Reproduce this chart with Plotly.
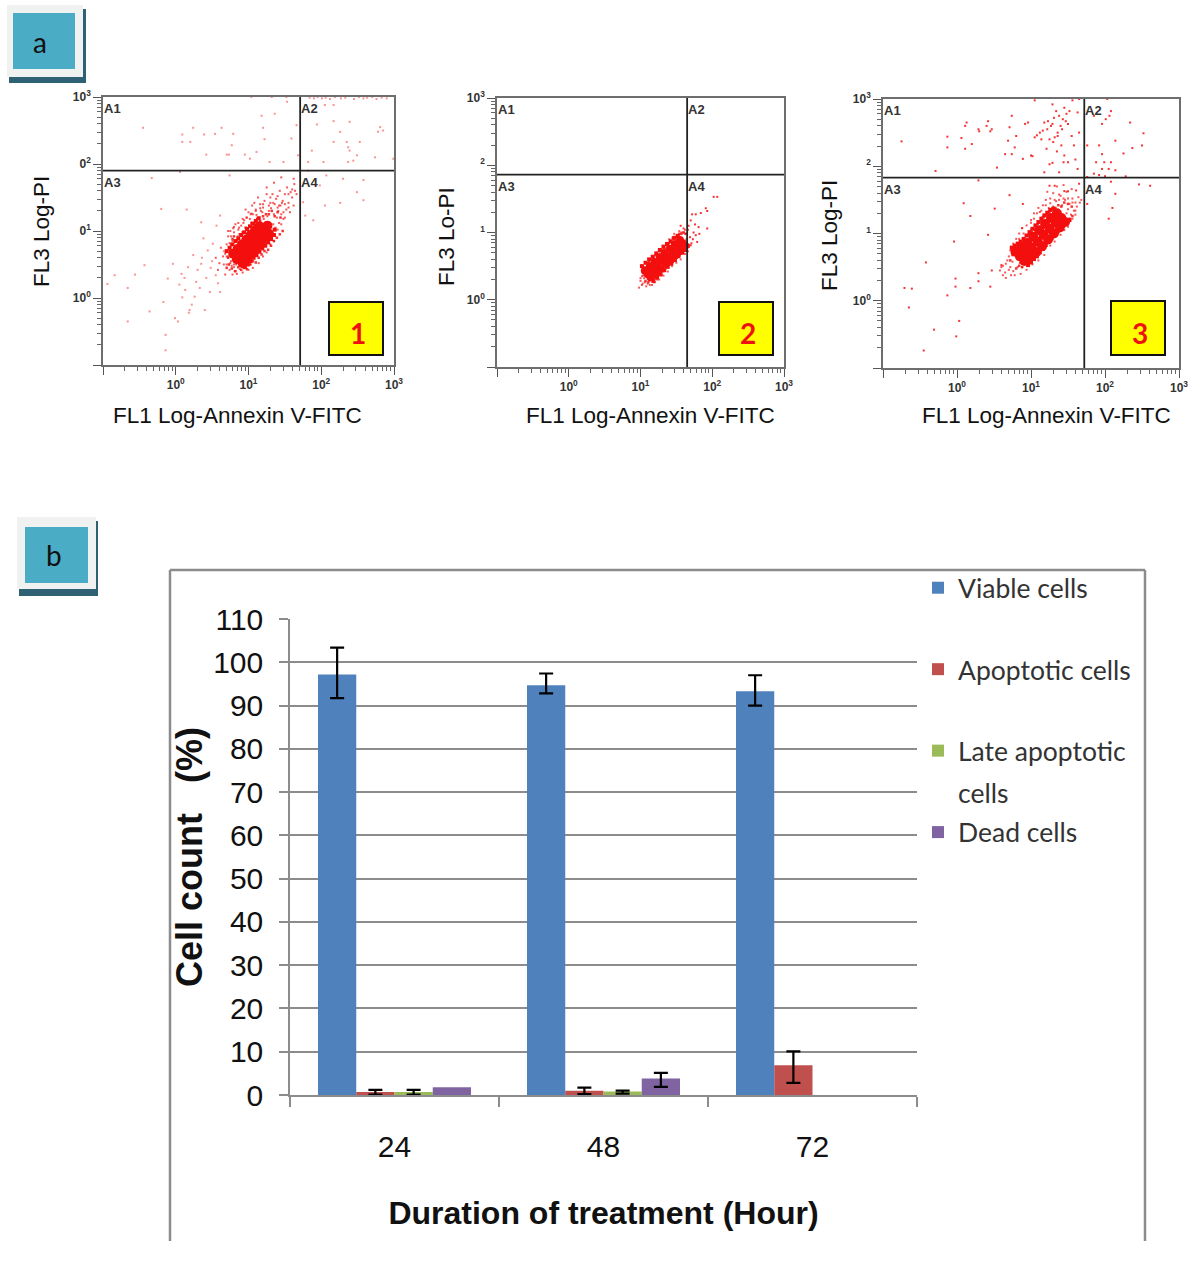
import plotly.graph_objects as go
import numpy as np

W, H = 1200, 1263
def px(x): return x / W
def py(y): return 1 - y / H

# ---------- panel a: flow cytometry dot plots (values in log10 decades) ----------
p1_sparse_x = [-0.45,0.09,0.09,0.24,0.39,0.20,0.63,0.54,0.79,0.77,0.42,0.70,0.73,0.95,1.20,1.18,1.36,1.53,1.22,1.11,1.02,1.59,1.48,1.66,1.68,1.29,1.04,1.32,1.52,
    1.84,1.90,1.95,2.01,2.06,2.12,2.19,2.27,2.33,2.45,2.52,2.58,2.63,2.70,2.76,2.83,2.90,
    2.05,2.17,1.94,2.17,2.39,2.26,2.81,2.85,2.78,2.35,2.37,2.39,2.49,2.44,2.37,2.03,2.53,2.74,1.87,1.82,2.17,2.99,
    1.82,2.07,2.30,2.58,2.49,2.58,2.26,2.05,1.75,1.89,1.78,1.98,
    -0.94,-0.66,-0.66,-0.84,-0.56,-0.36,-0.14,-0.14,-0.01,0.03,-0.17,0.19,0.09,-0.11,-0.04,0.08,0.17,0.28,0.35,0.47,0.61,0.40,-0.20,0.15,-0.33,0.74,0.06,-0.43,0.24,0.38,0.51,0.44,0.35,0.56,0.61,
    0.13,0.22,0.05,0.30,0.12,0.33,0.42,0.26,0.48,0.55,0.36,0.50,0.66,0.58,0.18]
p1_sparse_y = [2.54,2.44,2.33,2.54,2.44,2.33,2.54,2.45,2.45,2.28,2.14,2.14,2.14,2.14,2.54,2.72,2.75,2.93,2.37,2.18,2.08,2.38,2.03,2.58,2.13,2.03,3.0,3.0,3.0,
    2.99,2.98,3.0,2.98,2.99,2.97,3.0,2.98,2.99,2.97,3.0,2.98,2.99,3.0,2.97,2.99,2.98,
    2.88,2.88,2.59,2.64,2.63,2.48,2.55,2.50,2.48,2.33,2.25,2.20,2.13,2.05,2.03,2.03,2.33,2.10,2.20,2.03,2.33,2.08,
    1.90,1.83,1.78,1.76,1.58,1.46,1.42,1.38,1.43,1.16,1.23,1.68,
    0.21,0.15,-0.35,0.34,0.35,-0.20,-0.55,-0.78,-0.30,-0.35,-0.06,-0.18,0.01,0.29,0.51,0.36,0.46,0.24,0.51,0.09,0.09,-0.18,1.33,1.32,1.79,1.83,1.88,0.49,0.64,0.89,0.81,0.71,1.13,1.08,1.23,
    0.12,-0.10,0.20,0.42,0.30,0.15,0.30,0.02,0.45,0.34,0.60,0.55,0.70,0.22,-0.22]
p1_halo_x = [0.70,0.72,0.74,0.75,0.76,0.78,0.80,0.80,0.83,0.85,0.88,0.87,0.90,0.93,0.95,0.97,1.00,1.00,1.03,1.05,1.07,1.08,1.10,1.12,1.13,1.15,1.18,1.20,1.22,1.22,1.25,1.27,1.28,1.30,1.32,1.33,1.35,1.37,1.38,1.40,1.42,1.43,1.45,1.47,1.48,1.50,1.52,1.53,1.55,1.57,1.58,1.60,1.62,1.63,1.64,1.66,1.62,1.45,1.35,1.25,0.65,0.62,0.60,0.58,0.68,0.78,0.55,0.72,
    0.74,0.76,0.79,0.82,0.84,0.86,0.90,0.92,0.94,0.98,1.02,1.06,1.09,1.11,1.14,1.17,1.19,1.23,1.26,1.29,1.31,1.34,1.36,1.39,1.41,1.44,1.46,0.96,1.04,1.16,1.21,0.77,0.81,1.08,1.01,
    0.66,0.68,0.70,0.72,0.75,0.80,0.86,0.92,0.98,1.03,1.10,1.16,1.20,1.28,1.34,1.42,1.50,1.55,1.50,1.45,1.40,1.35,1.30,1.25,1.20,1.14,1.06,1.00,0.92,0.84,0.80,0.75,0.70,1.55,1.60,1.40,1.30,1.48]
p1_halo_y = [0.50,0.62,0.42,0.75,0.55,0.85,0.46,0.98,0.50,0.92,0.43,1.05,0.52,1.12,0.48,1.20,0.55,1.28,0.50,1.38,0.62,1.42,1.30,0.68,1.50,1.20,0.75,1.35,1.45,0.82,1.55,0.90,1.30,1.42,0.98,1.55,1.25,1.05,1.48,1.35,1.12,1.60,1.25,1.45,1.18,1.55,1.32,1.65,1.42,1.28,1.58,1.50,1.38,1.70,1.60,1.55,1.78,1.80,1.72,1.65,0.62,0.75,0.52,0.42,0.35,0.35,0.60,1.00,
    0.82,0.92,1.04,1.10,0.58,1.02,1.08,0.58,1.16,0.64,1.18,1.25,0.72,1.24,0.80,1.30,1.28,0.90,1.22,1.02,1.34,1.10,1.40,1.20,1.30,1.38,1.42,1.32,1.26,1.40,1.18,0.48,0.40,0.68,0.58,
    0.50,0.66,0.80,0.92,1.00,1.06,1.12,1.18,1.20,1.25,1.32,1.34,1.40,1.38,1.42,1.38,1.40,1.35,1.20,1.10,1.02,0.85,0.80,0.68,0.62,0.52,0.45,0.42,0.38,0.36,0.50,0.52,0.62,1.55,1.62,1.52,1.50,1.28]
p1_mid_x = [0.72,0.74,0.76,0.78,0.80,0.84,0.88,0.92,0.96,1.00,1.04,1.08,1.12,1.16,1.20,1.24,1.28,1.32,1.36,1.40,1.44,0.70,0.73,0.77,0.82,0.86,0.90,0.94,0.98,1.02,1.06,1.10,1.14,1.18,1.22,1.27,1.31,1.35,1.39,1.43,1.47]
p1_mid_y = [0.60,0.72,0.80,0.88,0.92,0.86,0.95,0.98,1.05,1.00,1.12,1.10,1.18,1.15,1.22,1.25,1.25,1.30,1.22,1.28,1.20,0.45,0.50,0.44,0.40,0.46,0.42,0.47,0.43,0.50,0.55,0.53,0.60,0.65,0.70,0.72,0.78,0.85,0.90,0.95,1.00]
p1_edge_x = [0.70,0.74,0.78,0.82,0.86,0.90,0.94,0.98,1.02,1.06,1.10,1.14,0.95,0.99,1.03,1.07,1.11,1.15,1.19,1.23,1.27,1.31,1.35,1.36]
p1_edge_y = [0.70,0.75,0.80,0.85,0.89,0.94,0.98,1.03,1.07,1.11,1.15,1.19,0.46,0.50,0.55,0.60,0.64,0.69,0.74,0.78,0.83,0.88,0.94,1.02]
p1_core_x = [0.84,0.90,0.96,1.02,1.08,1.14,1.20,1.26,0.79,0.85,0.91,0.97,1.03,1.09,1.15,0.92,0.98,1.04,1.10,1.16,1.22,1.28]
p1_core_y = [0.58,0.66,0.73,0.80,0.87,0.94,1.01,1.08,0.66,0.73,0.80,0.87,0.94,1.01,1.07,0.52,0.59,0.66,0.73,0.81,0.88,0.96]

p2_sparse_x = [2.02,2.07,1.91,1.93,1.77,1.72,1.84,1.70,1.67,1.81,1.93,1.74,1.77,1.69,1.79,1.70,1.56,1.60,1.73,1.66,1.76,1.71,1.82]
p2_sparse_y = [1.53,1.53,1.36,1.32,1.27,1.27,1.29,1.18,1.10,1.08,1.06,1.00,0.96,0.93,0.86,0.81,1.10,1.06,0.90,1.04,1.12,0.84,0.98]
p2_halo_x = [0.98,1.00,1.02,1.03,1.05,1.06,1.08,1.08,1.10,1.12,1.13,1.15,1.16,1.18,1.19,1.20,1.22,1.23,1.25,1.26,1.28,1.29,1.31,1.32,1.34,1.35,1.37,1.38,1.40,1.42,1.43,1.45,1.46,1.48,1.50,1.52,1.53,1.55,1.57,1.58,1.60,1.61,1.63,1.64,1.62,1.54,1.47,1.40,1.05,1.10,1.14,1.21,
    1.00,1.02,1.04,1.10,1.16,1.20,1.26,1.32,1.38,1.44,1.50,1.56,1.62,1.66,1.64,1.56,1.46,1.36,1.26,1.16,1.06]
p2_halo_y = [0.18,0.28,0.35,0.24,0.40,0.26,0.46,0.20,0.34,0.50,0.22,0.40,0.54,0.26,0.58,0.32,0.60,0.30,0.62,0.36,0.68,0.36,0.72,0.42,0.74,0.46,0.78,0.48,0.84,0.52,0.86,0.56,0.90,0.58,0.94,0.64,0.96,0.66,1.00,0.70,1.00,0.74,0.98,0.84,1.04,1.02,0.98,0.90,0.32,0.44,0.30,0.48,
    0.32,0.22,0.36,0.24,0.22,0.26,0.30,0.36,0.42,0.50,0.55,0.60,0.68,0.72,0.90,0.92,0.86,0.76,0.68,0.56,0.44]
p2_mid_x = [1.03,1.06,1.09,1.12,1.15,1.18,1.21,1.24,1.27,1.30,1.33,1.36,1.39,1.42,1.45,1.48,1.51,1.54,1.57,1.60,1.63,1.07,1.11,1.15,1.19,1.23,1.27,1.31,1.35,1.39,1.43,1.47,1.51,1.55,1.59,1.63,1.66]
p2_mid_y = [0.42,0.48,0.54,0.56,0.60,0.62,0.66,0.66,0.72,0.74,0.76,0.82,0.84,0.86,0.92,0.92,0.96,0.98,0.98,1.00,0.98,0.28,0.26,0.32,0.34,0.38,0.40,0.46,0.50,0.52,0.58,0.60,0.66,0.70,0.72,0.78,0.82]
p2_edge_x = [1.02,1.07,1.12,1.17,1.22,1.27,1.32,1.37,1.42,1.47,1.52,1.18,1.23,1.28,1.33,1.38,1.43,1.48,1.53,1.58,1.63,1.66]
p2_edge_y = [0.50,0.55,0.60,0.64,0.69,0.74,0.79,0.83,0.87,0.92,0.95,0.28,0.33,0.38,0.44,0.49,0.54,0.59,0.65,0.70,0.74,0.80]
p2_core_x = [1.10,1.17,1.24,1.31,1.38,1.45,1.52,1.59,1.06,1.13,1.20,1.27,1.34,1.41,1.48,1.55,1.14,1.21,1.28,1.35,1.42,1.49,1.56,1.62]
p2_core_y = [0.38,0.45,0.51,0.58,0.64,0.71,0.78,0.84,0.43,0.50,0.56,0.63,0.69,0.76,0.83,0.89,0.33,0.40,0.46,0.53,0.59,0.66,0.73,0.80]

p3_sparse_x = [-0.75,-0.29,-0.13,-0.13,0.11,0.13,0.06,0.11,0.20,0.29,0.30,0.40,0.42,0.47,0.45,0.54,0.74,0.71,0.69,0.65,0.74,0.80,0.78,0.92,0.96,0.89,1.00,1.02,1.05,1.12,1.16,1.18,1.23,1.25,1.29,1.34,1.38,1.43,1.47,1.50,1.45,1.52,1.32,1.36,1.21,1.29,1.25,1.29,1.50,1.38,1.58,1.65,1.63,1.65,1.56,1.05,1.63,1.45,1.41,1.18,
    1.27,1.31,1.40,1.42,1.48,1.36,1.30,1.22,1.14,1.08,1.55,1.60,1.44,1.35,
    1.85,1.96,2.01,2.03,2.08,2.06,2.34,2.52,2.14,2.50,2.37,2.25,1.96,1.92,1.76,1.88,1.99,2.08,1.96,2.05,2.14,1.85,1.92,2.00,1.76,2.28,
    2.08,2.46,2.61,1.79,2.10,2.05,2.14,1.76,
    0.09,0.18,0.51,-0.04,-0.42,-0.71,-0.61,-0.65,-0.31,-0.45,-0.13,-0.02,-0.02,0.03,-0.01,0.18,0.29,0.29,0.45,0.47,0.60,0.42,0.71,0.89,0.29,1.25,1.32,1.45,1.50,1.61,1.65]
p3_sparse_y = [2.37,1.93,2.44,2.28,2.60,2.65,2.42,2.26,2.33,2.55,2.52,2.60,2.67,2.55,2.52,1.98,2.75,2.58,2.38,2.18,2.18,2.45,2.28,2.63,2.65,2.11,2.16,2.15,2.43,2.50,2.53,2.65,2.67,2.40,2.92,2.82,2.75,2.70,2.67,2.63,2.87,2.82,2.43,2.50,2.26,2.63,2.03,2.05,2.06,1.91,2.31,2.50,2.80,3.00,2.98,2.98,1.96,2.16,2.31,1.91,
    2.60,2.72,2.60,2.55,2.78,2.45,2.36,2.55,2.40,2.46,2.45,2.10,2.06,2.22,
    2.75,2.63,2.70,3.00,2.82,2.75,2.65,2.49,2.38,2.31,2.27,2.19,2.18,2.31,2.31,2.06,2.06,2.06,1.96,1.96,1.94,1.89,1.87,1.85,1.84,1.85,
    1.77,1.73,1.71,1.71,1.38,1.22,1.59,1.44,
    1.45,1.26,1.37,0.88,0.57,0.19,0.18,-0.10,-0.43,-0.74,0.08,0.33,0.21,-0.30,-0.53,0.19,0.41,0.29,0.21,0.45,0.53,0.98,1.57,1.44,1.79,1.71,1.71,1.63,1.63,1.64,1.74]
p3_halo_x = [0.62,0.65,0.68,0.66,0.72,0.70,0.75,0.73,0.78,0.76,0.82,0.80,0.85,0.84,0.88,0.90,0.92,0.88,0.95,0.98,0.96,1.00,1.02,1.04,1.06,1.05,1.08,1.10,1.12,1.10,1.14,1.16,1.18,1.15,1.20,1.22,1.24,1.20,1.26,1.28,1.30,1.27,1.32,1.34,1.36,1.33,1.38,1.40,1.42,1.38,1.44,1.46,1.48,1.50,1.52,1.54,1.56,1.58,1.60,1.62,1.64,1.66,1.68,1.30,1.22,1.15,1.40,1.35,1.48,1.25,1.08,1.00,0.93,1.55,1.44,
    0.58,0.60,0.62,0.66,0.70,0.72,0.76,0.80,0.84,0.88,0.94,1.00,1.04,1.10,1.14,1.20,1.26,1.32,1.38,1.44,1.50,1.56,1.60,1.56,1.60,1.50,1.45,1.40,1.32,1.26,1.18,1.10,1.02,0.94,0.86,0.78]
p3_halo_y = [0.52,0.42,0.60,0.34,0.50,0.66,0.58,0.38,0.72,0.44,0.50,0.82,0.56,0.92,0.50,1.00,0.62,1.08,0.70,1.02,0.58,1.16,0.74,1.22,0.86,0.66,1.10,0.78,1.32,0.70,0.90,1.42,0.84,1.24,1.50,0.96,1.38,0.90,1.52,1.02,1.40,1.28,1.12,1.48,1.06,1.30,1.58,1.14,1.42,1.25,1.20,1.50,1.30,1.36,1.44,1.28,1.52,1.34,1.46,1.40,1.54,1.46,1.50,1.60,1.62,1.10,1.56,1.70,1.62,1.08,1.30,1.06,0.90,1.66,1.72,
    0.45,0.50,0.38,0.55,0.46,0.75,0.85,0.92,1.00,1.08,1.12,1.20,1.30,1.38,1.34,1.42,1.45,1.50,1.50,1.52,1.52,1.46,1.34,1.22,1.28,1.10,1.05,0.98,0.88,0.82,0.68,0.60,0.54,0.46,0.40,0.38]
p3_mid_x = [0.72,0.75,0.78,0.81,0.85,0.89,0.93,0.97,1.01,1.05,1.09,1.13,1.17,1.21,1.25,1.29,1.33,1.37,1.41,1.45,1.50,1.55,0.80,0.84,0.88,0.92,0.96,1.00,1.04,1.08,1.12,1.16,1.20,1.24,1.28,1.32,1.36,1.40,1.44,1.48,1.52,1.56]
p3_mid_y = [0.60,0.68,0.74,0.78,0.84,0.86,0.90,0.98,1.02,1.06,1.14,1.18,1.24,1.28,1.32,1.36,1.38,1.42,1.40,1.46,1.44,1.40,0.48,0.52,0.50,0.56,0.58,0.64,0.68,0.70,0.78,0.82,0.86,0.92,0.98,1.00,1.06,1.10,1.14,1.18,1.22,1.26]
p3_edge_x = [0.74,0.78,0.82,0.86,0.90,0.94,0.98,1.02,1.06,1.10,1.14,1.18,1.22,1.26,1.30,0.96,1.00,1.04,1.08,1.12,1.16,1.20,1.24,1.28,1.32,1.36,1.40,1.44,1.48,1.52]
p3_edge_y = [0.79,0.82,0.85,0.88,0.92,0.97,1.02,1.07,1.12,1.17,1.22,1.27,1.31,1.35,1.37,0.53,0.57,0.62,0.66,0.72,0.77,0.83,0.88,0.93,0.98,1.03,1.08,1.12,1.17,1.20]
p3_core_x = [0.85,0.93,1.01,1.09,1.17,1.25,1.33,1.41,0.79,0.87,0.95,1.03,1.11,1.19,1.27,1.35,0.91,0.99,1.07,1.15,1.23,1.31,1.39,1.46]
p3_core_y = [0.66,0.72,0.79,0.88,0.98,1.07,1.16,1.23,0.73,0.79,0.86,0.95,1.05,1.14,1.23,1.30,0.59,0.65,0.72,0.81,0.91,1.00,1.09,1.17]

gate_x = [10**1.71, 10**1.65, 10**1.72]
gate_y = [10**1.90, 10**1.86, 10**1.83]
fl_ticks = [0.1, 1, 10, 100, 1000]
fl_x_text = ["", "<b>10<sup>0</sup></b>", "<b>10<sup>1</sup></b>", "<b>10<sup>2</sup></b>", "<b>10<sup>3</sup></b>"]
fl_y_text = [
    ["", "<b>10<sup>0</sup></b>", "<b>0<sup>1</sup></b>", "<b>0<sup>2</sup></b>", "<b>10<sup>3</sup></b>"],
    ["", "<b>10<sup>0</sup></b>", "<b><sup>1</sup></b>", "<b><sup>2</sup></b>", "<b>10<sup>3</sup></b>"],
    ["", "<b>10<sup>0</sup></b>", "<b><sup>1</sup></b>", "<b><sup>2</sup></b>", "<b>10<sup>3</sup></b>"],
]
x_titles = ["FL1 Log-Annexin V-FITC"] * 3
y_titles = ["FL3 Log-PI", "FL3 Lo-PI", "FL3 Log-PI"]
box_labels = ["1", "2", "3"]

# ---------- panel b: bar chart ----------
hours = ["24", "48", "72"]
viable = [97.2, 94.7, 93.3]
apoptotic = [0.7, 1.0, 6.9]
late_apoptotic = [0.7, 0.8, 0]
dead = [1.8, 3.8, 0]
viable_up, viable_dn = [6.2, 2.7, 3.7], [5.5, 1.9, 3.3]
apoptotic_up, apoptotic_dn = [0.5, 0.7, 3.2], [0.6, 0.8, 4.1]
late_up, late_dn = [0.5, 0.2], [0.6, 0.5]
dead_up, dead_dn = ["none", 1.3], ["none", 1.9]
series_names = ["Viable cells", "Apoptotic cells", "Late apoptotic", "Dead cells"]
series_colors = ["#4f81bd", "#c0504d", "#9bbb59", "#8064a2"]

fig = go.Figure()

# frames: (left, right, top, bottom) in page pixels
panels = [(103, 394, 97, 365), (497, 784, 98, 367), (883, 1179, 99, 368)]
sparse = [(p1_sparse_x, p1_sparse_y), (p2_sparse_x, p2_sparse_y), (p3_sparse_x, p3_sparse_y)]
halo = [(p1_halo_x, p1_halo_y), (p2_halo_x, p2_halo_y), (p3_halo_x, p3_halo_y)]
mid = [(p1_mid_x, p1_mid_y), (p2_mid_x, p2_mid_y), (p3_mid_x, p3_mid_y)]
edge = [(p1_edge_x, p1_edge_y), (p2_edge_x, p2_edge_y), (p3_edge_x, p3_edge_y)]
core = [(p1_core_x, p1_core_y), (p2_core_x, p2_core_y), (p3_core_x, p3_core_y)]
sparse_op = [0.45, 0.85, 0.85]
core_size = [10, 8, 10]
minor_vals = [m * d for d in (0.1, 1, 10, 100) for m in range(2, 10)]
shapes, annos = [], []

for i, (l, r, t, b) in enumerate(panels):
    ax = "" if i == 0 else str(i + 1)
    xa, ya = f"x{ax}", f"y{ax}"
    for (xs, ys), size, op in ((sparse[i], 2, sparse_op[i]), (halo[i], 2, 0.7), (mid[i], 2.5, 0.85), (edge[i], 4, 1), (core[i], core_size[i], 1)):
        fig.add_trace(go.Scatter(x=10 ** np.array(xs), y=10 ** np.array(ys), mode="markers", xaxis=xa, yaxis=ya,
                                 marker=dict(color="#f40f0f", size=size, opacity=op, symbol="square" if size < 5 else "circle", line_width=0),
                                 showlegend=False, hoverinfo="skip"))
    fig.add_trace(go.Scatter(x=[gate_x[i]] * 2, y=[0.1, 1000], mode="lines", xaxis=xa, yaxis=ya,
                             line=dict(color="#222222", width=1.8), showlegend=False, hoverinfo="skip"))
    fig.add_trace(go.Scatter(x=[0.1, 1000], y=[gate_y[i]] * 2, mode="lines", xaxis=xa, yaxis=ya,
                             line=dict(color="#222222", width=1.8), showlegend=False, hoverinfo="skip"))
    common = dict(type="log", automargin=False, showgrid=False, zeroline=False, showline=True, mirror=True, linecolor="#6e6e6e", linewidth=1.5,
                  ticks="outside", ticklen=8, tickcolor="#555555", tickwidth=1, tickmode="array", tickvals=fl_ticks,
                  tickfont=dict(family="Liberation Sans", size=12, color="#333333"),
                  minor=dict(ticks="outside", ticklen=4, tickcolor="#666666", tickwidth=1, tickvals=minor_vals))
    fig.update_layout({
        f"xaxis{ax}": dict(common, domain=[px(l), px(r)], anchor=ya, range=[-1, 3], ticktext=fl_x_text),
        f"yaxis{ax}": dict(common, domain=[py(b), py(t)], anchor=xa, range=[-1, 3], ticktext=fl_y_text[i]),
    })
    lgx, lgy = np.log10(gate_x[i]), np.log10(gate_y[i])
    for text, qx, qy in (("A1", -1, 2.83), ("A2", lgx, 2.83), ("A3", -1, lgy - 0.17), ("A4", lgx, lgy - 0.17)):
        annos.append(dict(text=f"<b>{text}</b>", x=qx, y=qy, xref=xa, yref=ya, xanchor="left", yanchor="middle", showarrow=False,
                          xshift=-1, font=dict(family="Liberation Sans", size=13, color="#333333")))

# yellow number boxes
for (x0, x1, y0, y1), label in zip([(329, 383, 302, 355), (719, 773, 302, 355), (1111, 1165, 301, 355)], box_labels):
    shapes.append(dict(type="rect", xref="paper", yref="paper", x0=px(x0), x1=px(x1), y0=py(y0), y1=py(y1),
                       fillcolor="#ffff00", line=dict(color="#111111", width=2)))
    annos.append(dict(text=f"<b>{label}</b>", xref="paper", yref="paper", x=px((x0 + x1) / 2 + 2), y=py(333), xanchor="center", yanchor="middle",
                      showarrow=False, font=dict(family="Lato", size=28, color="#ee1111")))

# axis captions of the dot plots
for text, cx in zip(x_titles, (237, 650.5, 1046.5)):
    annos.append(dict(text=text, xref="paper", yref="paper", x=px(cx), y=py(415), xanchor="center", yanchor="middle", showarrow=False,
                      font=dict(family="Liberation Sans", size=22.5, color="#111111")))
for text, cx, cy in zip(y_titles, (42, 447, 829), (232, 237, 236)):
    annos.append(dict(text=text, xref="paper", yref="paper", x=px(cx), y=py(cy), xanchor="center", yanchor="middle", textangle=-90, showarrow=False,
                      font=dict(family="Liberation Sans", size=22.5, color="#111111")))

# badges a / b
for (ol, or_, ot, ob, sr, sb, il, ir, it, ib, label, lx, ly) in [
        (7, 83, 5, 77, 86, 83, 13, 75, 13, 69, "a", 40, 42),
        (17, 96, 517, 589, 98, 596, 25, 88, 527, 583, "b", 54, 555)]:
    shapes.append(dict(type="rect", xref="paper", yref="paper", x0=px(ol + 2), x1=px(sr), y0=py(ot + 4), y1=py(sb),
                       fillcolor="#2e6173", line_width=0))
    shapes.append(dict(type="rect", xref="paper", yref="paper", x0=px(ol), x1=px(or_), y0=py(ot), y1=py(ob),
                       fillcolor="#f0f1f1", line_width=0))
    shapes.append(dict(type="rect", xref="paper", yref="paper", x0=px(il), x1=px(ir), y0=py(it), y1=py(ib),
                       fillcolor="#4bacc6", line_width=0))
    annos.append(dict(text=label, xref="paper", yref="paper", x=px(lx), y=py(ly), xanchor="center", yanchor="middle", showarrow=False,
                      font=dict(family="Lato", size=28, color="#111111")))

# second line of the wrapped legend entry
annos.append(dict(text="cells", xref="paper", yref="paper", x=px(956), y=py(793), xanchor="left", yanchor="middle", showarrow=False,
                  font=dict(family="Lato", size=26.5, color="#333333")))

# outer frame of panel b (open at the bottom)
for x0, y0, x1, y1 in [(170, 1241, 170, 570), (170, 570, 1145, 570), (1145, 570, 1145, 1241)]:
    shapes.append(dict(type="line", xref="paper", yref="paper", x0=px(x0), y0=py(y0), x1=px(x1), y1=py(y1),
                       line=dict(color="#8c8c8c", width=2.5)))

# bars
bars = [(viable, viable_up, viable_dn), (apoptotic, apoptotic_up, apoptotic_dn),
        (late_apoptotic, late_up, late_dn), (dead, dead_up, dead_dn)]
for (vals, up, dn), name, col in zip(bars, series_names, series_colors):
    fig.add_trace(go.Bar(x=hours, y=vals, name=name, legendgroup=name, xaxis="x4", yaxis="y4", marker=dict(color=col, line_width=0),
                         error_y=dict(type="data", symmetric=False, array=up, arrayminus=dn, color="#000000", thickness=2.2, width=7)))

fig.update_layout(
    xaxis4=dict(type="category", automargin=False, domain=[px(290), px(917)], anchor="y4", tickson="boundaries", ticks="outside", ticklen=10,
                tickcolor="#8c8c8c", tickwidth=1.5, showline=True, linecolor="#8c8c8c", linewidth=1.5, showgrid=False,
                ticklabelstandoff=24,
                tickfont=dict(family="Liberation Sans", size=30, color="#111111"),
                title=dict(text="<b>Duration of treatment (Hour)</b>", standoff=40,
                           font=dict(family="Liberation Sans", size=32, color="#111111"))),
    yaxis4=dict(automargin=False, domain=[py(1095), py(619)], anchor="x4", range=[0, 110], tickmode="linear", tick0=0, dtick=10,
                ticks="outside", ticklen=9, tickcolor="#8c8c8c", tickwidth=1.5, showline=True, linecolor="#8c8c8c", linewidth=1.5,
                gridcolor="#8c8c8c", gridwidth=1.5, zeroline=False, ticklabelstandoff=10,
                tickfont=dict(family="Liberation Sans", size=30, color="#111111"),
                title=dict(text="<b>Cell count   (%)</b>", standoff=0,
                           font=dict(family="Liberation Sans", size=36, color="#111111"))),
    barmode="group", bargap=0.268, bargroupgap=0,
    legend=dict(x=px(918), y=py(564), xanchor="left", yanchor="top", bgcolor="rgba(0,0,0,0)", tracegroupgap=44,
                font=dict(family="Lato", size=26.5, color="#333333"), traceorder="grouped", itemclick=False),
    width=W, height=H, margin=dict(l=0, r=0, t=0, b=0, autoexpand=False), autosize=False,
    paper_bgcolor="white", plot_bgcolor="white", shapes=shapes, annotations=annos, showlegend=True,
)
fig.write_html("out.html", post_script="document.body.style.margin='0';", config={"displayModeBar": False})
